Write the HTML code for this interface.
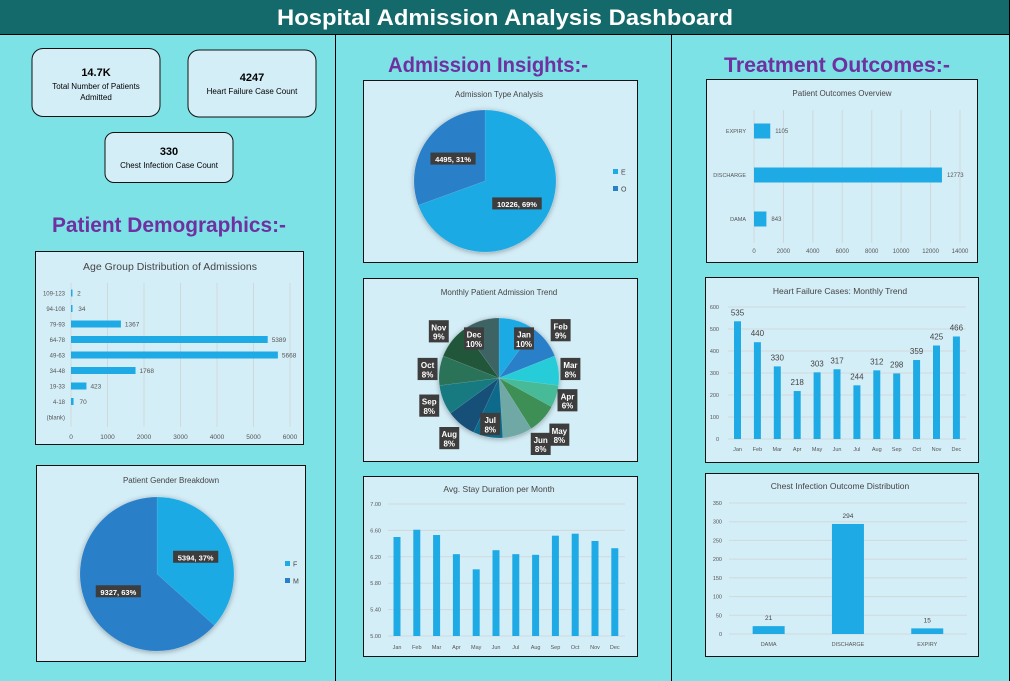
<!DOCTYPE html>
<html><head><meta charset="utf-8">
<style>
html,body{margin:0;padding:0;background:#7ce2e6;}
svg{display:block;font-family:"Liberation Sans",sans-serif;}
</style></head>
<body>
<svg id="dash" width="1010" height="681" viewBox="0 0 1010 681" xmlns="http://www.w3.org/2000/svg">
<defs>
<filter id="sh" x="-20%" y="-20%" width="140%" height="140%"><feGaussianBlur in="SourceAlpha" stdDeviation="3"/><feOffset dx="0" dy="1"/><feComponentTransfer><feFuncA type="linear" slope="0.35"/></feComponentTransfer><feMerge><feMergeNode/><feMergeNode in="SourceGraphic"/></feMerge></filter>
</defs>
<rect x="0" y="0" width="1010" height="681" fill="#7ce2e6"/>
<rect x="0" y="0" width="1010" height="34" fill="#14696b"/>
<line x1="0" y1="34.5" x2="1010" y2="34.5" stroke="#000" stroke-width="1"/>
<text x="505" y="25" text-anchor="middle" font-size="22" font-weight="bold" fill="#fff" textLength="456" lengthAdjust="spacingAndGlyphs">Hospital Admission Analysis Dashboard</text>
<line x1="335.5" y1="34" x2="335.5" y2="681" stroke="#000"/>
<line x1="671.5" y1="34" x2="671.5" y2="681" stroke="#000"/>
<line x1="1009.5" y1="0" x2="1009.5" y2="681" stroke="#000"/>

<g>
<rect x="32" y="48.5" width="128" height="68" rx="11" fill="#d4eef8" stroke="#111"/>
<text x="96" y="76" text-anchor="middle" font-size="11" font-weight="bold">14.7K</text>
<text x="96" y="89" text-anchor="middle" font-size="8">Total Number of Patients</text>
<text x="96" y="100" text-anchor="middle" font-size="8">Admitted</text>
</g>
<g>
<rect x="188" y="50" width="128" height="67" rx="11" fill="#d4eef8" stroke="#111"/>
<text x="252" y="81" text-anchor="middle" font-size="11" font-weight="bold">4247</text>
<text x="252" y="94" text-anchor="middle" font-size="8">Heart Failure Case Count</text>
</g>
<g>
<rect x="105" y="132.5" width="128" height="50" rx="9" fill="#d4eef8" stroke="#111"/>
<text x="169" y="155" text-anchor="middle" font-size="11" font-weight="bold">330</text>
<text x="169" y="168" text-anchor="middle" font-size="8">Chest Infection Case Count</text>
</g>

<text x="169" y="232" text-anchor="middle" font-size="21" font-weight="bold" fill="#7030a0" textLength="234" lengthAdjust="spacingAndGlyphs">Patient Demographics:-</text>
<text x="488" y="72" text-anchor="middle" font-size="21" font-weight="bold" fill="#7030a0" textLength="200" lengthAdjust="spacingAndGlyphs">Admission Insights:-</text>
<text x="837" y="72" text-anchor="middle" font-size="21" font-weight="bold" fill="#7030a0" textLength="226" lengthAdjust="spacingAndGlyphs">Treatment Outcomes:-</text>

<rect x="35.5" y="251.5" width="268" height="193" fill="#d4eef8" stroke="#111"/>
<text x="170" y="270" text-anchor="middle" font-size="10.5" fill="#444">Age Group Distribution of Admissions</text>
<rect x="36.5" y="465.5" width="269" height="196" fill="#d4eef8" stroke="#111"/>
<text x="171" y="483" text-anchor="middle" font-size="8" fill="#444">Patient Gender Breakdown</text>
<rect x="363.5" y="80.5" width="274" height="182" fill="#d4eef8" stroke="#111"/>
<text x="499" y="97" text-anchor="middle" font-size="8" fill="#444">Admission Type Analysis</text>
<rect x="363.5" y="278.5" width="274" height="183" fill="#d4eef8" stroke="#111"/>
<text x="499" y="295" text-anchor="middle" font-size="8" fill="#444">Monthly Patient Admission Trend</text>
<rect x="363.5" y="476.5" width="274" height="180" fill="#d4eef8" stroke="#111"/>
<text x="499" y="492" text-anchor="middle" font-size="8.5" fill="#444">Avg. Stay Duration per Month</text>
<rect x="706.5" y="79.5" width="271" height="183" fill="#d4eef8" stroke="#111"/>
<text x="842" y="96" text-anchor="middle" font-size="8" fill="#444">Patient Outcomes Overview</text>
<rect x="705.5" y="277.5" width="273" height="185" fill="#d4eef8" stroke="#111"/>
<text x="840" y="294" text-anchor="middle" font-size="8.5" fill="#444">Heart Failure Cases: Monthly Trend</text>
<rect x="705.5" y="473.5" width="273" height="183" fill="#d4eef8" stroke="#111"/>
<text x="840" y="489" text-anchor="middle" font-size="8.5" fill="#444">Chest Infection Outcome Distribution</text>

<g id="charts"></g>
</svg>
<script>
// ---- data ----
const ageGroups = ["109-123","94-108","79-93","64-78","49-63","34-48","19-33","4-18","(blank)"];
const ageCounts = [2,34,1367,5389,5668,1768,423,70,0];
const ageTicks = [0,1000,2000,3000,4000,5000,6000];

const genderNames = ["F","M"];
const genderCounts = [5394,9327];
const genderPct = ["37%","63%"];

const admTypeNames = ["E","O"];
const admTypeCounts = [10226,4495];
const admTypePct = ["69%","31%"];

const months = ["Jan","Feb","Mar","Apr","May","Jun","Jul","Aug","Sep","Oct","Nov","Dec"];
const monthShare = [10,9,8,6,8,8,8,8,8,8,9,10];

const avgStay = [6.50,6.61,6.53,6.24,6.01,6.30,6.24,6.23,6.52,6.55,6.44,6.33];
const avgStayTicks = [5.00,5.40,5.80,6.20,6.60,7.00];

const outcomeNames = ["EXPIRY","DISCHARGE","DAMA"];
const outcomeCounts = [1105,12773,843];
const outcomeTicks = [0,2000,4000,6000,8000,10000,12000,14000];

const hfCases = [535,440,330,218,303,317,244,312,298,359,425,466];
const hfTicks = [0,100,200,300,400,500,600];

const chestNames = ["DAMA","DISCHARGE","EXPIRY"];
const chestCounts = [21,294,15];
const chestTicks = [0,50,100,150,200,250,300,350];

// ---- helpers ----
const NS = "http://www.w3.org/2000/svg";
const root = document.getElementById("charts");
const BAR = "#1eaae4";
function mk(tag, attrs, parent, txt){
  const e = document.createElementNS(NS, tag);
  for (const k in attrs) e.setAttribute(k, attrs[k]);
  if (txt !== undefined) e.textContent = txt;
  (parent || root).appendChild(e);
  return e;
}
function lin(d0,d1,r0,r1){ return v => r0 + (v-d0)/(d1-d0)*(r1-r0); }
function arcPath(cx,cy,r,a0,a1){
  const p = a => [cx + r*Math.sin(a), cy - r*Math.cos(a)];
  const [x0,y0]=p(a0),[x1,y1]=p(a1);
  const large = (a1-a0) > Math.PI ? 1 : 0;
  return `M${cx},${cy} L${x0},${y0} A${r},${r} 0 ${large} 1 ${x1},${y1} Z`;
}
function darkLabel(x,y,lines,fs){
  const g = mk("g",{});
  
  
  const w = Math.max(...lines.map(l=>l.length))*fs*0.58+6;
  const h = lines.length*fs*1.2+3;
  mk("rect",{x:x-w/2,y:y-h/2,width:w,height:h,fill:"#3d3d3d"},g);
  lines.forEach((l,i)=>{
    mk("text",{x:x,y:y-h/2+2+fs*(i+1)*1.15-1,"text-anchor":"middle","font-size":fs,"font-weight":"bold",fill:"#fff"},g,l);
  });
  return g;
}

// ---- Age group horizontal bar ----
(function(){
  const x = lin(0,6000,71,290);
  const y0 = 293, step = 15.5;
  ageTicks.forEach(t=>{
    const gl = mk("line",{x1:x(t),x2:x(t),y1:283,y2:427,stroke:"#d0d8dc","stroke-width":1});
    
    
    const tl = mk("text",{x:x(t),y:439,"text-anchor":"middle","font-size":6.5,fill:"#555"},null,String(t));
    
    
  });
  ageGroups.forEach((c,i)=>{
    const cy = y0 + i*step;
    const cl = mk("text",{x:65,y:cy+2.5,"text-anchor":"end","font-size":6,fill:"#555"},null,c);
    
    
    if (ageCounts[i] > 0){
      const b = mk("rect",{x:x(0),y:cy-3.5,width:Math.max(1.5,x(ageCounts[i])-x(0)),height:7,fill:BAR});
      
      
      const v = mk("text",{x:x(ageCounts[i])+4+(ageCounts[i]<100?2:0),y:cy+2.5,"font-size":6.5,fill:"#555"},null,String(ageCounts[i]));
      
      
    }
  });
})();

function pie(cx,cy,r,vals,colors,prefix){
  const tot = vals.reduce((a,b)=>a+b,0);
  const g = mk("g",{filter:"url(#sh)"});
  
  
  let a = 0; const mids=[];
  vals.forEach((v,i)=>{
    const a1 = a + v/tot*2*Math.PI;
    const s = mk("path",{d:arcPath(cx,cy,r,a,a1),fill:colors[i],stroke:"rgba(255,255,255,0.15)","stroke-width":0.5},g);
    
    
    mids.push((a+a1)/2); a = a1;
  });
  return mids;
}
function legend(x,y,names,colors,prefix){
  names.forEach((n,i)=>{
    const g = mk("g",{});
    
    
    mk("rect",{x:x,y:y+i*17-4,width:5,height:5,fill:colors[i]},g);
    mk("text",{x:x+8,y:y+i*17+1.5,"font-size":7,fill:"#444"},g,n);
  });
}

(function(){
  const cols = ["#1eaae4","#2a7fc9"];
  const cx=157, cy=574, r=77;
  const mids = pie(cx,cy,r,genderCounts,cols,"gender");
  genderCounts.forEach((v,i)=>{
    const lr = r*0.55;
    darkLabel(cx+lr*Math.sin(mids[i]), cy-lr*Math.cos(mids[i]), [v+", "+genderPct[i]], 7.5);
  });
  legend(285,565,genderNames,cols,"gender");
})();

(function(){
  const cols = ["#1eaae4","#2a7fc9"];
  const cx=485, cy=181, r=71;
  const mids = pie(cx,cy,r,admTypeCounts,cols,"admission-type");
  admTypeCounts.forEach((v,i)=>{
    const lr = r*0.55;
    darkLabel(cx+lr*Math.sin(mids[i]), cy-lr*Math.cos(mids[i]), [v+", "+admTypePct[i]], 7.5);
  });
  legend(613,173,admTypeNames,cols,"admission-type");
})();

(function(){
  const cols = ["#1eaae4","#2a7fc9","#27cdd8","#46bb98","#3d8f56","#6fa8a6","#0e6a8a","#174f78","#167a80","#2b7358","#24573a","#3c6465"];
  const cx=499, cy=378, r=60;
  const mids = pie(cx,cy,r,monthShare,cols,"monthly");
  const lf = [0.78,1.3,1.2,1.2,1.38,1.3,0.78,1.3,1.25,1.2,1.27,0.78];
  const da = [0.25,0,0,0,0,-0.25,0,0,0,0,0,-0.25];
  months.forEach((m,i)=>{
    const a = mids[i] + da[i];
    const lr = r*lf[i];
    darkLabel(cx+lr*Math.sin(a), cy-lr*Math.cos(a), [m, monthShare[i]+"%"], 8);
  });
})();

(function(){
  const y = lin(5,7,636,504);
  const x0 = 397, step = 19.8;
  avgStayTicks.forEach(t=>{
    const gl = mk("line",{x1:388,x2:625,y1:y(t),y2:y(t),stroke:"#d0d8dc"});
    
    
    const tl = mk("text",{x:381,y:y(t)+2,"text-anchor":"end","font-size":5.5,fill:"#555"},null,t.toFixed(2));
    
    
  });
  months.forEach((m,i)=>{
    const cx = x0 + i*step;
    const b = mk("rect",{x:cx-3.5,y:y(avgStay[i]),width:7,height:y(5)-y(avgStay[i]),fill:BAR});
    
    
    const l = mk("text",{x:cx,y:649,"text-anchor":"middle","font-size":5.5,fill:"#555"},null,m);
    
    
  });
})();

(function(){
  const x = lin(0,14000,754,960);
  const y0 = 131, step = 44;
  outcomeTicks.forEach(t=>{
    const gl = mk("line",{x1:x(t),x2:x(t),y1:110,y2:243,stroke:"#d0d8dc"});
    
    
    const tl = mk("text",{x:x(t),y:253,"text-anchor":"middle","font-size":6,fill:"#555"},null,String(t));
    
    
  });
  outcomeNames.forEach((n,i)=>{
    const cy = y0 + i*step;
    const cl = mk("text",{x:746,y:cy+2,"text-anchor":"end","font-size":5.5,fill:"#555"},null,n);
    
    
    const b = mk("rect",{x:x(0),y:cy-7.5,width:x(outcomeCounts[i])-x(0),height:15,fill:BAR});
    
    
    const v = mk("text",{x:x(outcomeCounts[i])+5,y:cy+2,"font-size":6,fill:"#555"},null,String(outcomeCounts[i]));
    
    
  });
})();

(function(){
  const y = lin(0,600,439,307);
  const x0 = 737.5, step = 19.9;
  hfTicks.forEach(t=>{
    const gl = mk("line",{x1:728,x2:966,y1:y(t),y2:y(t),stroke:"#d0d8dc"});
    
    
    const tl = mk("text",{x:719,y:y(t)+2,"text-anchor":"end","font-size":5.5,fill:"#555"},null,String(t));
    
    
  });
  months.forEach((m,i)=>{
    const cx = x0 + i*step;
    const b = mk("rect",{x:cx-3.5,y:y(hfCases[i]),width:7,height:y(0)-y(hfCases[i]),fill:BAR});
    
    
    const v = mk("text",{x:cx,y:y(hfCases[i])-6,"text-anchor":"middle","font-size":8,fill:"#444"},null,String(hfCases[i]));
    
    
    const l = mk("text",{x:cx,y:451,"text-anchor":"middle","font-size":5.5,fill:"#555"},null,m);
    
    
  });
})();

(function(){
  const y = lin(0,350,634,503);
  const xStart = 729, cw = 79.3;
  chestTicks.forEach(t=>{
    const gl = mk("line",{x1:729,x2:967,y1:y(t),y2:y(t),stroke:"#d0d8dc"});
    
    
    const tl = mk("text",{x:722,y:y(t)+2,"text-anchor":"end","font-size":5.5,fill:"#555"},null,String(t));
    
    
  });
  chestNames.forEach((n,i)=>{
    const cx = xStart + cw*(i+0.5);
    const b = mk("rect",{x:cx-16,y:y(chestCounts[i]),width:32,height:y(0)-y(chestCounts[i]),fill:BAR});
    
    
    const v = mk("text",{x:cx,y:y(chestCounts[i])-6,"text-anchor":"middle","font-size":6.5,fill:"#444"},null,String(chestCounts[i]));
    
    
    const l = mk("text",{x:cx,y:646,"text-anchor":"middle","font-size":5.5,fill:"#555"},null,n);
    
    
  });
})();
</script>
</body></html>
